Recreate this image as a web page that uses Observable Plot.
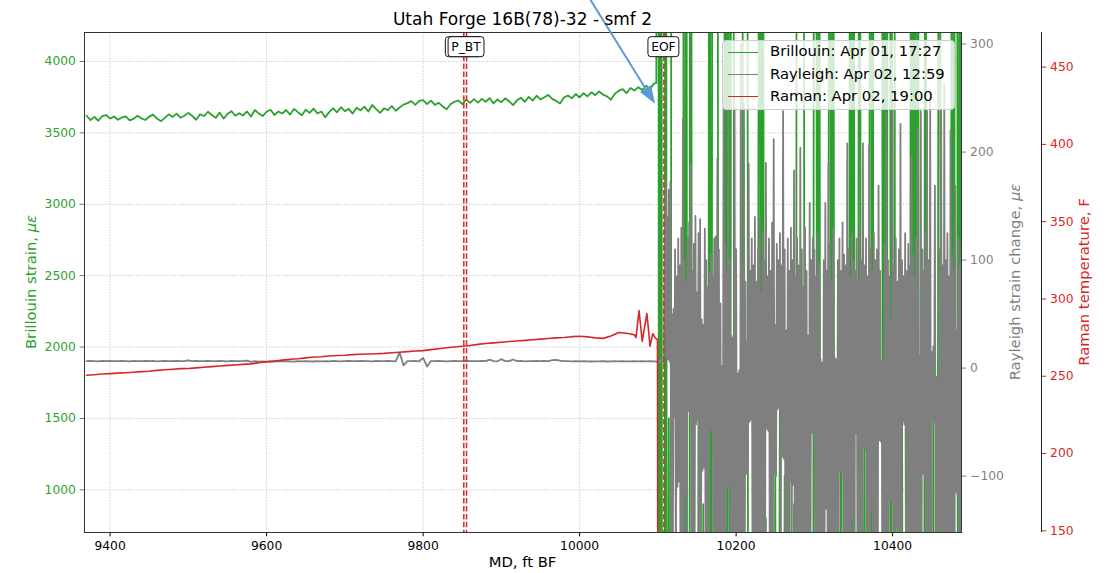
<!DOCTYPE html>
<html>
<head>
<meta charset="utf-8">
<script src="https://cdn.jsdelivr.net/npm/d3@7"></script>
<script src="https://cdn.jsdelivr.net/npm/@observablehq/plot@0.6"></script>
<style>
  body { margin: 0; background: #fff; }
  #chart { position: relative; width: 1114px; height: 573px; background: #fff; font-family: "DejaVu Sans", sans-serif; overflow: hidden; }
  #chart svg { position: absolute; left: 0; top: 0; }
  .legend { position: absolute; background: rgba(255,255,255,0.8); border: 1px solid #cccccc; border-radius: 4px; box-sizing: border-box; }
  .legend .swatch { position: absolute; height: 0; border-top-style: solid; border-top-width: 1.8px; width: 30px; }
  .legend .entry { position: absolute; font-size: 14.8px; color: #000; line-height: 1; white-space: nowrap; }
</style>
</head>
<body>
<div id="chart"></div>
<script>
// ---- Well 16B(78)-32, fibre smf 2: DFOS profiles vs measured depth ----

// Brillouin strain (µε), 5 ft sampling from 9370 ft
const brillouinStart = 9370, brillouinStep = 5;
const brillouin = [
  3620, 3590, 3612, 3585, 3618, 3625, 3600, 3615, 3592, 3608,
  3615, 3588, 3598, 3620, 3602, 3590, 3614, 3628, 3600, 3582,
  3605, 3630, 3612, 3635, 3606, 3620, 3640, 3618, 3592, 3630,
  3618, 3648, 3625, 3605, 3642, 3600, 3632, 3652, 3620, 3638,
  3622, 3650, 3615, 3660, 3635, 3618, 3648, 3662, 3625, 3650,
  3636, 3660, 3628, 3668, 3645, 3624, 3662, 3640, 3670, 3636,
  3650, 3610, 3645, 3672, 3644, 3680, 3652, 3668, 3635, 3676,
  3658, 3684, 3650, 3695, 3666, 3640, 3672, 3660, 3688, 3655,
  3678, 3698, 3708, 3722, 3696, 3724, 3730, 3702, 3726, 3696,
  3710, 3685, 3665, 3700, 3718, 3728, 3702, 3732, 3710, 3736,
  3712, 3738, 3718, 3744, 3706, 3734, 3715, 3742, 3720, 3694,
  3728, 3746, 3718, 3752, 3726, 3760, 3734, 3750, 3766, 3738,
  3724, 3705, 3748, 3762, 3742, 3772, 3748, 3778, 3756, 3784,
  3764, 3790, 3768, 3756, 3732, 3774, 3794, 3806, 3778, 3814,
  3796, 3820, 3800, 3830, 3808, 3845
];
// Brillouin past the end of fibre, 2 ft sampling from 10098 ft
const brillouinTailStart = 10098, brillouinTailStep = 2;
const brillouinTail = [
  3850,
  15000, -8000, 14000, -9000, -7000, 11000, -6000, 1500, -5000, 13000,
  16000, 9000, 12000, 10000, 14000, 11000, 9500, -7000, 12000, -6000,
  -4000, 13000, -5000, 1200, -3000, -6000, 2200, -4000, -7000, 900,
  -5000, -3000, -6000, 12000, -7000, 10000, 14000, 11000, 9000, -5000,
  -3000, 1600, -6000, 12000, -4000, 11000, -6000, 10000, 13000, -5000,
  -3000, 1000, -6000, -4000, 2400, 12000, 9000, 10000, -7000, -4000,
  -6000, -3000, -4000, -5000, 1400, 9000, -4000, 12000, -5000, 800,
  -6000, -3000, 1800, -5000, -4000, 1300, -6000, -3000, 2000, -5000,
  -4000, 1100, -6000, -3000, 1700, -5000, -4000, 900, -6000, 12000,
  9000, 13000, 11000, 10000, -5000, -3000, 1500, -6000, -4000, -5000,
  11000, 9000, -4000, 10000, -5000, -6000, 1200, -5000, -3000, 2100,
  11000, -5000, 10000, -6000, 1000, -4000, -5000, 1600, -6000, -3000,
  1900, -5000, -4000, 12000, -6000, 11000, -5000, -3000, 1400, 10000,
  -6000, -4000, 2300, -5000, -3000, 1100, 12000, -5000, 10000, 13000,
  9000, 11000, 10000, 12000, -6000, 11000, -5000, 10000, 12000, -4000,
  11000, 9000, -6000, 1500, -5000, -3000, 2000, -6000, -4000, 1200,
  -5000, -3000, 12000, -5000, 10000, -6000, 11000, -4000, 1800, -5000,
  -3000, 10000, -6000, 900, -4000, -5000, 1600, -6000, -3000, 2200,
  12000, -5000, -4000, -3000, -6000, 1300, -5000, -3000, 10000, -6000,
  12000, 9000, -5000, 11000, -4000
];

// Rayleigh strain change (µε), 5 ft sampling from 9370 ft
const rayleighStart = 9370, rayleighStep = 5;
const rayleigh = [
  6.4, 6.6, 6.5, 6.3, 6.6, 6.5, 6.7, 6.4, 6.5, 6.6,
  6.5, 6.3, 6.6, 6.5, 6.4, 6.7, 6.5, 6.6, 6.3, 6.5,
  6.6, 6.4, 6.5, 6.7, 6.5, 6.4, 7.2, 6.5, 6.6, 6.4,
  6.5, 6.6, 6.4, 6.5, 6.7, 6.5, 6.3, 6.6, 6.5, 6.4,
  6.6, 7.0, 5.8, 6.5, 6.0, 6.2, 5.9, 6.3, 6.1, 6.4,
  6.2, 6.5, 6.3, 6.0, 6.4, 6.2, 6.5, 6.3, 6.1, 6.4,
  6.3, 6.5, 6.2, 6.6, 6.4, 6.3, 6.5, 6.7, 6.4, 6.5,
  6.6, 6.4, 6.5, 6.3, 6.6, 6.5, 6.4, 6.7, 6.5, 6.3,
  14.5, 2.5, 6.5, 6.4, 6.6, 6.3, 9.5, 1.5, 6.5, 6.4,
  6.6, 6.5, 6.3, 6.5, 6.7, 6.4, 6.5, 6.6, 6.4, 6.5,
  6.5, 6.6, 6.4, 7.8, 6.5, 6.3, 8.2, 6.5, 6.4, 8.0,
  6.5, 6.6, 6.3, 6.5, 6.4, 6.6, 6.5, 6.7, 6.4, 7.4,
  7.6, 7.0, 6.5, 6.4, 6.3, 6.5, 6.2, 6.4, 6.3, 6.1,
  6.3, 6.2, 6.4, 6.1, 6.3, 6.5, 6.2, 6.4, 6.3, 6.2,
  6.4, 6.3, 6.5, 6.2, 6.4, 6.3
];
// Rayleigh past the end of fibre, 1 ft sampling from 10100 ft
const rayleighTailStart = 10100, rayleighTailStep = 1;
const rayleighTail = [
  6, 7, 5, 6, 8, 6, 7, 5, 8, 120, 173, 9, 140, 8, 165, 6, 173, -190, 50, -220,
  55, -45, 110, -200, 85, -110, 120, -105, 95, -230, 130, -180, 231, -210, 100, -115, 80, -190, 120, -40,
  135, -42, 189, -200, 90, -240, 115, -170, 141, -52, 70, -48, 125, -220, 138, -190, 45, -95, 40, -92,
  129, -210, 100, -185, 75, -230, 90, -55, 105, -60, 85, -200, 120, -175, 122, -240, 194, -190, 110, -205,
  60, -220, 2, -180, 280, -200, 115, -230, 90, -110, 250, -108, 100, -210, 30, -190, 28, -170, 241, -220,
  110, -200, -5, -190, -2, -230, 300, -210, 95, -180, 246, -200, 80, -98, 25, -96, 189, -50, 90, -48,
  120, -210, 95, -190, 140, -230, 80, -175, 110, -200, 141, -215, 70, -180, 125, -240, 100, -190, 190, -56,
  85, -58, 120, -200, 90, -220, 135, -185, 212, -98, 40, -100, 115, -38, 100, -36, 125, -210, 95, -82,
  238, -84, 110, -200, 35, -230, 120, -190, 90, -105, 130, -210, 100, -108, 183, -220, 85, -190, 120, -240,
  95, -200, 204, -180, 110, -230, 75, -190, 130, -210, 90, -175, 30, -220, 153, -200, 100, -60, 120, -62,
  110, -210, 85, -190, 125, -230, 95, -180, 8, -200, 5, -220, 100, -190, 153, -130, 90, -210, 190, -200,
  115, -230, 80, -190, 130, -210, 10, -180, 8, -220, 100, -200, 120, -95, 90, -97, 135, -210, 105, -190,
  95, -220, 208, -200, 110, -185, 85, -230, 125, -140, 100, -210, 90, -60, 120, -190, 80, -240, 130, -200,
  100, -210, 208, -74, 95, -76, 120, -190, 85, -220, 206, -200, 110, -132, 90, -210, 125, -180, 100, -230,
  110, -200, 169, -67, 90, -68, 6, -210, 8, -190, 115, -230, 236, -200, 100, -180, 85, -122, 45, -124,
  250, -210, 95, -190, 120, -146, 80, -150, 110, -220, 226, -200, 100, -49, 85, -52, 125, -210, 90, -190,
  115, -230, 95, -200, 196, -180, 105, -220, 85, -190, 120, -210, 222, -200, 12, -230, 238, -190, 110, -98,
  90, -100, 125, -210, 238, -200, 100, -190, 257, -220, 15, -48, 20, -50, 169, -210, -8, -200, -10, -190,
  110, -230, 241, -200, 95, -180, 263, -210, 100, -190, 125, -220, 85, -200, 220, -210, 105, -190, 90, -230,
  169, -115, 35, -118, 120, -200, 95, -190, 110
];

// Raman temperature (F), 10 ft sampling from 9370 ft
const ramanStart = 9370, ramanStep = 10;
const raman = [
  250.6, 251.0, 251.4, 251.7, 252.0, 252.3, 252.6, 253.0, 253.2, 253.8,
  254.2, 254.5, 254.9, 255.0, 255.4, 255.8, 256.2, 256.6, 257.0, 257.3,
  257.7, 258.0, 258.8, 259.3, 259.8, 260.4, 261.0, 261.3, 261.9, 262.4,
  262.6, 263.1, 263.4, 263.6, 264.0, 264.2, 264.4, 264.6, 264.8, 265.2,
  265.5, 265.9, 266.3, 266.6, 267.2, 267.8, 268.4, 268.9, 269.4, 269.9,
  270.6, 271.2, 271.6, 272.0, 272.5, 272.8, 273.2, 273.6, 274.0, 274.4,
  274.8, 275.1, 275.6, 275.9, 275.5, 274.8, 274.5, 276.0, 278.3, 277.8,
  276.8
];
// Raman near the end of fibre (irregular depths)
const ramanTailMD = [10072, 10076, 10080, 10086, 10090, 10093.5, 10097, 10099.5, 10100];
const ramanTailF  = [275, 292.5, 272.5, 290.5, 269.5, 277.5, 274.5, 274, 60];

// Depth markers
const markerMD = [9852, 9855.5, 10107.7];
const markerLabel = ["P_BT", "P_BT", "EOF"];

// Callout arrow (MD, Brillouin units)
const arrowFrom = [9999, 4565];
const arrowTo = [10097, 3700];

// Scales and ticks
const mdDomain = [9367.3, 10488];
const brillouinDomain = [701, 4203];
const rayleighDomain = [-152.2, 310.7];
const ramanDomain = [148.9, 472.4];
const mdTicks = [9400, 9600, 9800, 10000, 10200, 10400];
const brillouinTicks = [1000, 1500, 2000, 2500, 3000, 3500, 4000];
const rayleighTicks = [-100, 0, 100, 200, 300];
const ramanTicks = [150, 200, 250, 300, 350, 400, 450];

const legendLabels = ["Brillouin: Apr 01, 17:27", "Rayleigh: Apr 02, 12:59", "Raman: Apr 02, 19:00"];
const titleText = "Utah Forge 16B(78)-32 - smf 2";

// ---- layout & style ----
const W = 1114, H = 573;
const M = {top: 32, right: 153, bottom: 41, left: 84};
const GREEN = "#2ca02c", GRAY = "#7f7f7f", RED = "#d62728", ARROW = "#5b9bd5";
const FONT = "DejaVu Sans";
const TICK_FS = 12.3, LABEL_FS = 14.8, TITLE_FS = 17;

const rows = (start, step, vals) => vals.map((v, i) => ({md: start + step * i, v}));
const brillouinRows = [...rows(brillouinStart, brillouinStep, brillouin), ...rows(brillouinTailStart, brillouinTailStep, brillouinTail)];
const rayleighRows = [...rows(rayleighStart, rayleighStep, rayleigh), ...rows(rayleighTailStart, rayleighTailStep, rayleighTail)];
const ramanRows = [...rows(ramanStart, ramanStep, raman), ...ramanTailMD.map((md, i) => ({md, v: ramanTailF[i]}))];

const common = {
  width: W, height: H,
  marginTop: M.top, marginRight: M.right, marginBottom: M.bottom, marginLeft: M.left,
  style: {fontFamily: FONT, fontSize: TICK_FS + "px", background: "none", overflow: "hidden"}
};
const tickOpts = {tickSize: 4.3, tickPadding: 4.3, fontSize: TICK_FS, label: null, tickFormat: "d"};

// Layer 1: Brillouin on the primary axes with grid and MD axis
const layerBrillouin = Plot.plot({
  ...common,
  x: {domain: mdDomain},
  y: {domain: brillouinDomain},
  marks: [
    Plot.gridX(mdTicks, {stroke: "#b0b0b0", strokeOpacity: 1, strokeWidth: 0.8, strokeDasharray: "1,1.6"}),
    Plot.gridY(brillouinTicks, {stroke: "#b0b0b0", strokeOpacity: 1, strokeWidth: 0.8, strokeDasharray: "1,1.6"}),
    Plot.line(brillouinRows, {x: "md", y: "v", stroke: GREEN, strokeWidth: 1.8, clip: true}),
    Plot.axisX(mdTicks, {...tickOpts, color: "#000"}),
    Plot.axisY(brillouinTicks, {...tickOpts, anchor: "left", color: GREEN})
  ]
});

// Layer 2: Rayleigh on a twin axis (right)
const layerRayleigh = Plot.plot({
  ...common,
  x: {domain: mdDomain, axis: null},
  y: {domain: rayleighDomain},
  marks: [
    Plot.line(rayleighRows, {x: "md", y: "v", stroke: GRAY, strokeWidth: 1.8, clip: true}),
    Plot.axisY(rayleighTicks, {...tickOpts, anchor: "right", color: GRAY})
  ]
});

// Layer 3: Raman on an offset twin axis
const layerRaman = Plot.plot({
  ...common,
  x: {domain: mdDomain, axis: null},
  y: {domain: ramanDomain},
  marks: [
    Plot.line(ramanRows, {x: "md", y: "v", stroke: RED, strokeWidth: 1.6, clip: true}),
    Plot.ruleX([mdDomain[1]], {dx: 80, stroke: "#222", strokeWidth: 1}),
    Plot.axisY(ramanTicks, {...tickOpts, anchor: "right", dx: 80, color: RED})
  ]
});

// Boxed depth-marker labels near the top of the frame; a box hidden
// under the next box with the same label keeps only its outline
function markerLabels(index, scales, values, dims) {
  const g = d3.create("svg:g").attr("font-family", FONT).attr("font-size", TICK_FS);
  const ctx = document.createElement("canvas").getContext("2d");
  ctx.font = `${TICK_FS}px "${FONT}"`;
  const cy = dims.marginTop + 14.7, h = 20;
  markerMD.forEach((md, i) => {
    const cx = scales.x(md);
    const w = ctx.measureText(markerLabel[i]).width + 6.4;
    g.append("rect")
      .attr("x", cx - w / 2).attr("y", cy - h / 2)
      .attr("width", w).attr("height", h).attr("rx", 3)
      .attr("fill", "white").attr("stroke", "#111").attr("stroke-width", 1);
    const next = i + 1 < markerMD.length ? scales.x(markerMD[i + 1]) : Infinity;
    const covered = markerLabel[i + 1] === markerLabel[i] && Math.abs(next - cx) < w;
    if (!covered) {
      g.append("text")
        .attr("x", cx).attr("y", cy).attr("dy", "0.36em")
        .attr("text-anchor", "middle").attr("fill", "#000")
        .text(markerLabel[i]);
    }
  });
  return g.node();
}

// Callout arrow with a filled head
function calloutArrow(index, scales) {
  const x1 = scales.x(arrowFrom[0]), y1 = scales.y(arrowFrom[1]);
  const x2 = scales.x(arrowTo[0]), y2 = scales.y(arrowTo[1]);
  const a = Math.atan2(y2 - y1, x2 - x1), L = 18, hw = 6.5;
  const bx = x2 - L * Math.cos(a), by = y2 - L * Math.sin(a);
  const g = d3.create("svg:g");
  g.append("line").attr("x1", x1).attr("y1", y1).attr("x2", bx).attr("y2", by)
    .attr("stroke", ARROW).attr("stroke-width", 2);
  g.append("path")
    .attr("d", `M${x2},${y2}L${bx + hw * Math.sin(a)},${by - hw * Math.cos(a)}L${bx - hw * Math.sin(a)},${by + hw * Math.cos(a)}Z`)
    .attr("fill", ARROW);
  return g.node();
}

// Layer 4: markers, frame, callout
const layerNotes = Plot.plot({
  ...common,
  x: {domain: mdDomain, axis: null},
  y: {domain: brillouinDomain, axis: null},
  marks: [
    Plot.ruleX(markerMD, {stroke: RED, strokeWidth: 1.5, strokeDasharray: "5.5,2.4"}),
    Plot.frame({stroke: "#333", strokeWidth: 1}),
    markerLabels,
    calloutArrow
  ]
});

// Title and axis labels
const notes = d3.select(layerNotes);
const midY = (M.top + H - M.bottom) / 2;
const midX = (M.left + W - M.right) / 2;
notes.append("text")
  .attr("x", midX).attr("y", 25).attr("text-anchor", "middle")
  .attr("font-family", FONT).attr("font-size", TITLE_FS).attr("fill", "#000")
  .text(titleText);
notes.append("text")
  .attr("x", midX).attr("y", 567).attr("text-anchor", "middle")
  .attr("font-family", FONT).attr("font-size", LABEL_FS).attr("fill", "#000")
  .text("MD, ft BF");
function yLabel(x, text, color) {
  const t = notes.append("text")
    .attr("transform", `translate(${x},${midY}) rotate(-90)`)
    .attr("text-anchor", "middle")
    .attr("font-family", FONT).attr("font-size", LABEL_FS).attr("fill", color);
  t.append("tspan").text(text);
  return t;
}
yLabel(35.5, "Brillouin strain, ", GREEN).append("tspan").attr("font-style", "italic").text("με");
yLabel(1019.5, "Rayleigh strain change, ", GRAY).append("tspan").attr("font-style", "italic").text("με");
yLabel(1088.5, "Raman temperature, F", RED);

const chart = document.getElementById("chart");
chart.append(layerBrillouin, layerRayleigh, layerRaman, layerNotes);

// Legend (upper right, inside the frame)
const legend = document.createElement("div");
legend.className = "legend";
Object.assign(legend.style, {left: "722px", top: "40px", width: "233px", height: "70px"});
[GREEN, GRAY, RED].forEach((c, i) => {
  const sw = document.createElement("div");
  sw.className = "swatch";
  Object.assign(sw.style, {left: "5px", top: (11 + i * 22.2) + "px", borderTopColor: c});
  const tx = document.createElement("div");
  tx.className = "entry";
  Object.assign(tx.style, {left: "47px", top: (11.9 + i * 22.2 - 8.5) + "px"});
  tx.textContent = legendLabels[i];
  legend.append(sw, tx);
});
chart.append(legend);
</script>
</body>
</html>
